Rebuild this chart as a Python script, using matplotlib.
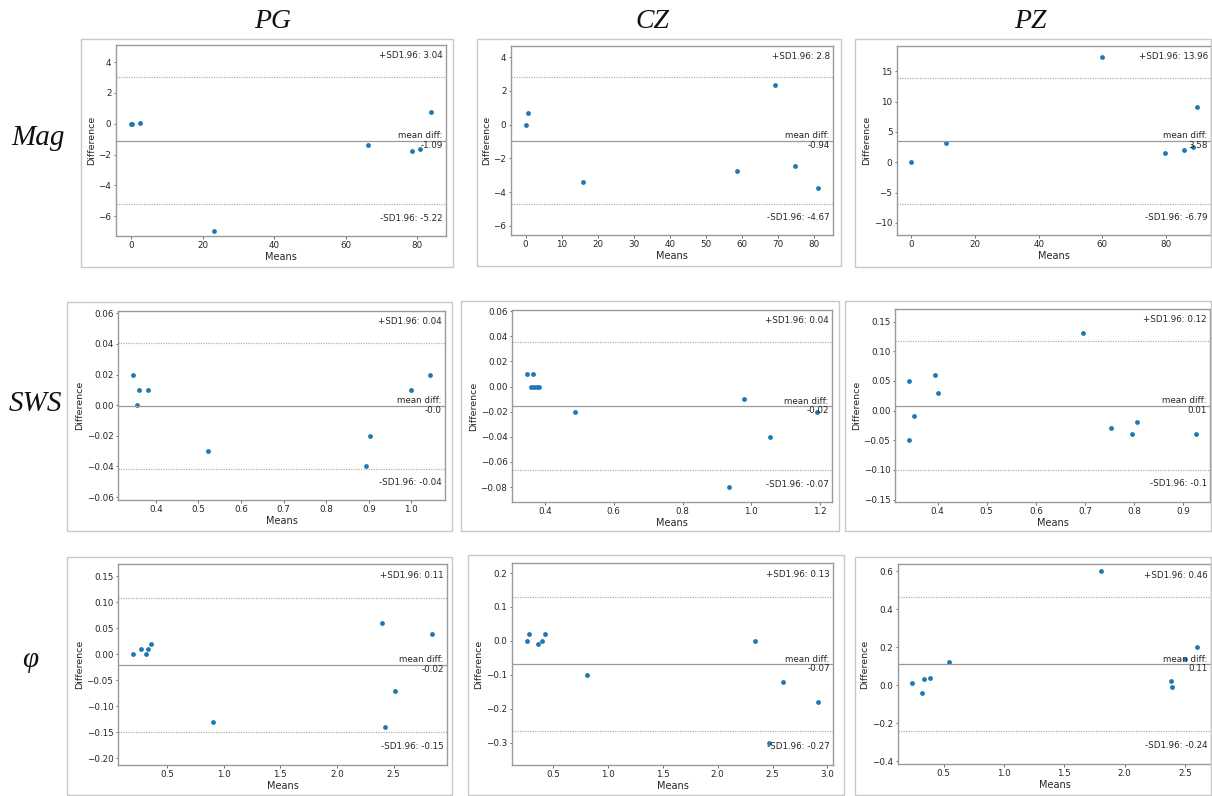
import numpy as np
import matplotlib
matplotlib.use('Agg')
import matplotlib.pyplot as plt
from matplotlib.patches import Rectangle
from matplotlib.ticker import MultipleLocator

# Bland-Altman data (means, differences) per region / measure
pg_mag_means = [0.0, 0.2, 2.6, 23.1, 66.3, 78.4, 80.8, 83.8]
pg_mag_diffs = [0.0, 0.0, 0.07, -6.93, -1.39, -1.74, -1.67, 0.76]
cz_mag_means = [0.0, 0.6, 15.8, 58.6, 69.3, 74.6, 81.2]
cz_mag_diffs = [0.0, 0.67, -3.42, -2.77, 2.33, -2.42, -3.78]
pz_mag_means = [0.0, 10.9, 59.9, 79.5, 85.7, 88.5, 89.6]
pz_mag_diffs = [0.0, 3.13, 17.4, 1.48, 2.03, 2.5, 9.1]

pg_sws_means = [0.346, 0.355, 0.361, 0.381, 0.523, 0.893, 0.903, 0.999, 1.044]
pg_sws_diffs = [0.02, 0.0, 0.01, 0.01, -0.03, -0.04, -0.02, 0.01, 0.02]
cz_sws_means = [0.347, 0.366, 0.36, 0.37, 0.376, 0.383, 0.489, 0.935, 0.98, 1.054, 1.192]
cz_sws_diffs = [0.01, 0.01, 0.0, 0.0, 0.0, 0.0, -0.02, -0.08, -0.01, -0.04, -0.02]
pz_sws_means = [0.3425, 0.3425, 0.352, 0.395, 0.40, 0.695, 0.752, 0.795, 0.805, 0.925]
pz_sws_diffs = [0.05, -0.05, -0.01, 0.06, 0.03, 0.13, -0.03, -0.04, -0.02, -0.04]

pg_phi_means = [0.20, 0.274, 0.312, 0.333, 0.359, 0.909, 2.397, 2.424, 2.509, 2.838]
pg_phi_diffs = [0.0, 0.01, 0.0, 0.01, 0.02, -0.13, 0.06, -0.14, -0.07, 0.04]
cz_phi_means = [0.26, 0.279, 0.364, 0.397, 0.424, 0.806, 2.339, 2.467, 2.60, 2.918]
cz_phi_diffs = [0.0, 0.02, -0.01, 0.0, 0.02, -0.1, 0.0, -0.30, -0.12, -0.18]
pz_phi_means = [0.24, 0.323, 0.337, 0.384, 0.544, 1.80, 2.38, 2.395, 2.497, 2.597]
pz_phi_diffs = [0.01, -0.04, 0.03, 0.04, 0.12, 0.60, 0.02, -0.01, 0.14, 0.20]

# mean difference and SD of differences per panel (rows: Mag, SWS, phi; cols: PG, CZ, PZ)
mean_diffs = [[-1.09, -0.937, 3.583],
              [-0.0002, -0.0155, 0.0085],
              [-0.0196, -0.068, 0.1115]]
sd_diffs = [[2.107, 1.906, 5.2935],
            [0.021, 0.026, 0.0553],
            [0.0658, 0.1012, 0.1793]]

col_titles = ['PG', 'CZ', 'PZ']
row_titles = ['Mag', 'SWS', 'φ']
sd_limit = 1.96

W, H = 1212, 796
fig = plt.figure(figsize=(W / 100, H / 100), dpi=100)

def fig_box(l, t, r, b):
    return [l / W, 1 - b / H, (r - l) / W, (b - t) / H]

# pixel layout of the pasted panels (outer frame, axes)
frames = [[(81, 39, 453, 267), (477, 39, 841, 266), (855, 39, 1211, 267)],
          [(67, 302, 452, 531), (461, 301, 839, 531), (845, 301, 1211, 531)],
          [(67, 557, 452, 795), (468, 555, 844, 795), (855, 557, 1211, 795)]]
axes_px = [[(116, 45, 446, 236), (511, 46, 833, 235), (897, 46, 1211, 235)],
           [(118, 311, 445, 500), (512, 310, 832, 502), (895, 309, 1210, 502)],
           [(118, 564, 447, 765), (512, 563, 833, 765), (898, 564, 1211, 764)]]
x_steps = [[20, 10, 20], [0.1, 0.2, 0.1], [0.5, 0.5, 0.5]]
y_steps = [[2, 2, 5], [0.02, 0.02, 0.05], [0.05, 0.1, 0.2]]

data = [[(pg_mag_means, pg_mag_diffs), (cz_mag_means, cz_mag_diffs), (pz_mag_means, pz_mag_diffs)],
        [(pg_sws_means, pg_sws_diffs), (cz_sws_means, cz_sws_diffs), (pz_sws_means, pz_sws_diffs)],
        [(pg_phi_means, pg_phi_diffs), (cz_phi_means, cz_phi_diffs), (pz_phi_means, pz_phi_diffs)]]

txt_col = '#262626'

for i in range(3):
    for j in range(3):
        l, t, r, b = frames[i][j]
        fig.patches.append(Rectangle((l / W, 1 - b / H), (r - l) / W, (b - t) / H,
                                     transform=fig.transFigure, fill=False,
                                     edgecolor='#c8c8c8', lw=1.0))
        ax = fig.add_axes(fig_box(*axes_px[i][j]))
        means, diffs = data[i][j]
        md = mean_diffs[i][j]
        sd = sd_diffs[i][j]
        ax.scatter(means, diffs, s=12, color='#1f77b4', linewidths=0)
        ax.axhline(md, color='#9a9a9a', lw=0.9)
        ax.annotate('mean diff:\n{}'.format(float(np.round(md, 2))), xy=(0.99, 0.5),
                    ha='right', va='center', fontsize=6.3, color=txt_col,
                    xycoords='axes fraction', linespacing=1.1)
        upper = md + sd_limit * sd
        lower = md - sd_limit * sd
        ax.axhline(upper, color='#b0b0b0', lw=0.9, linestyle=(0, (1, 1)))
        ax.axhline(lower, color='#b0b0b0', lw=0.9, linestyle=(0, (1, 1)))
        ax.annotate('-SD{}: {}'.format(sd_limit, float(np.round(lower, 2))), xy=(0.99, 0.07),
                    ha='right', va='bottom', fontsize=6.3, color=txt_col,
                    xycoords='axes fraction')
        ax.annotate('+SD{}: {}'.format(sd_limit, float(np.round(upper, 2))), xy=(0.99, 0.92),
                    ha='right', va='bottom', fontsize=6.3, color=txt_col,
                    xycoords='axes fraction')
        half = 1.5 * sd_limit * sd
        ax.set_ylim(md - half, md + half)
        ax.xaxis.set_major_locator(MultipleLocator(x_steps[i][j]))
        ax.yaxis.set_major_locator(MultipleLocator(y_steps[i][j]))
        ax.set_xlabel('Means', fontsize=7.0, color=txt_col, labelpad=1.5)
        ax.set_ylabel('Difference', fontsize=6.8, color=txt_col, labelpad=2)
        ax.tick_params(labelsize=6.3, length=1.8, width=0.6, pad=1.5,
                       colors='#555555', labelcolor=txt_col)
        for sp in ax.spines.values():
            sp.set_color('#9a9a9a')
            sp.set_linewidth(1.0)

col_x = [273, 652, 1030]
for j, name in enumerate(col_titles):
    fig.text(col_x[j] / W, 1 - 21 / H, name, ha='center', va='center', fontsize=20,
             family='Liberation Serif', style='italic', color='#111111')

row_pos = [(38, 138), (35, 404), (30, 660)]
for i, name in enumerate(row_titles):
    x, y = row_pos[i]
    fig.text(x / W, 1 - y / H, name, ha='center', va='center', fontsize=21,
             family='Liberation Serif', style='italic', color='#111111')

fig.savefig('out.png', dpi=100, facecolor='white')
